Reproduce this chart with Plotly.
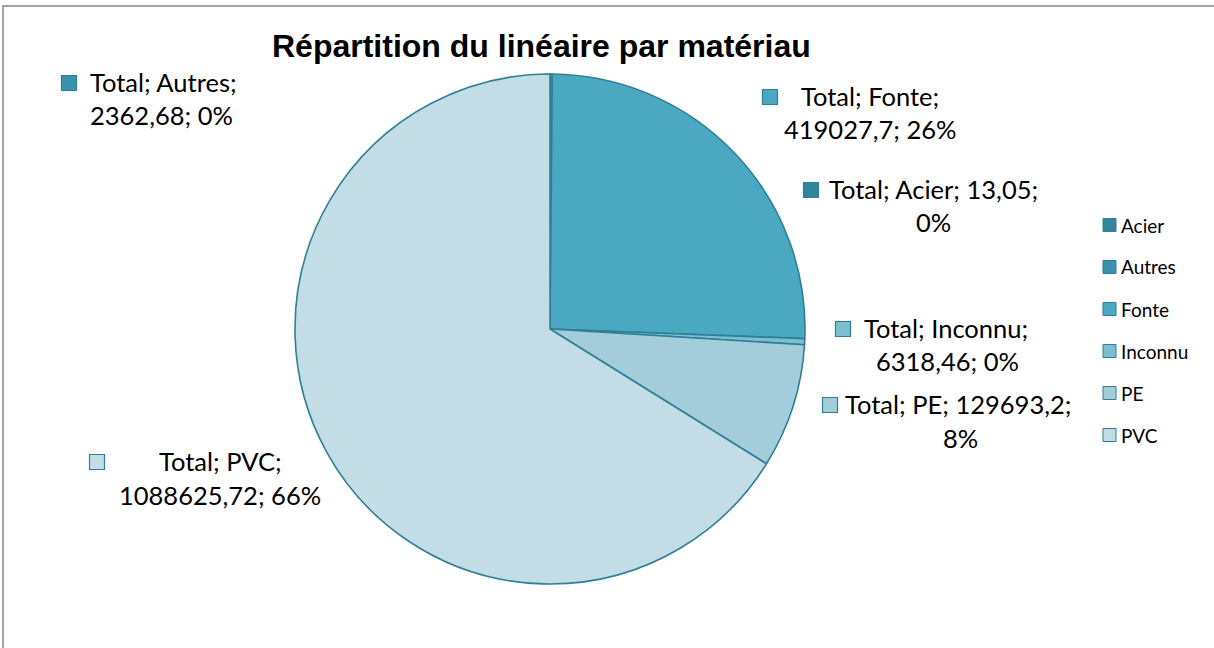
import plotly.graph_objects as go

W, H = 1214, 648

categories = ["Acier", "Autres", "Fonte", "Inconnu", "PE", "PVC"]
values = [13.05, 2362.68, 419027.7, 6318.46, 129693.2, 1088625.72]
value_text = ["13,05", "2362,68", "419027,7", "6318,46", "129693,2", "1088625,72"]
pct_text = ["0%", "0%", "26%", "0%", "8%", "66%"]
colors = ["#31859C", "#3A93AB", "#4AA8C1", "#7BBFD1", "#A3CDDB", "#C3DDE6"]
edge = "#2F8097"

label_lines = {
    "Acier": ["Total; Acier; 13,05;", "0%"],
    "Autres": ["Total; Autres;", "2362,68; 0%"],
    "Fonte": ["Total; Fonte;", "419027,7; 26%"],
    "Inconnu": ["Total; Inconnu;", "6318,46; 0%"],
    "PE": ["Total; PE; 129693,2;", "8%"],
    "PVC": ["Total; PVC;", "1088625,72; 66%"],
}
# pixel positions: marker centre, line1 centre, line2 centre
label_pos = {
    "Acier": ((811, 190), (934, 189), (934, 222)),
    "Autres": ((69, 83), (163, 82), (161, 115)),
    "Fonte": ((770, 97), (870, 96), (870, 129)),
    "Inconnu": ((843, 329), (946, 328), (947, 361)),
    "PE": ((830, 405), (958, 404), (960, 438)),
    "PVC": ((97, 462), (220, 461), (220, 495)),
}

def px(x):
    return x / W

def py(y):
    return 1 - y / H

fig = go.Figure()
fig.add_trace(go.Pie(
    labels=categories,
    values=values,
    sort=False,
    direction="clockwise",
    rotation=0,
    textinfo="none",
    hoverinfo="label+value+percent",
    marker=dict(colors=colors, line=dict(color=edge, width=1.6)),
    domain=dict(x=[px(295), px(805)], y=[py(584), py(74)]),
    showlegend=False,
))

shapes = []
annotations = []

label_font = dict(family="Lato, Open Sans, sans-serif", size=25.5, color="#000000")
for i, cat in enumerate(categories):
    (mx, my), l1, l2 = label_pos[cat]
    shapes.append(dict(type="rect", xref="paper", yref="paper",
                       x0=px(mx - 7.5), x1=px(mx + 7.5), y0=py(my + 7.5), y1=py(my - 7.5),
                       fillcolor=colors[i], line=dict(color=edge, width=1.2)))
    for (cx, cy), txt in zip((l1, l2), label_lines[cat]):
        annotations.append(dict(x=px(cx), y=py(cy), xref="paper", yref="paper",
                                text=txt, showarrow=False, xanchor="center", yanchor="middle",
                                font=label_font))

# legend
legend_y0, legend_step = 225, 42
for i, cat in enumerate(categories):
    cy = legend_y0 + i * legend_step
    shapes.append(dict(type="rect", xref="paper", yref="paper",
                       x0=px(1103), x1=px(1116), y0=py(cy + 6.5), y1=py(cy - 6.5),
                       fillcolor=colors[i], line=dict(color=edge, width=1)))
    annotations.append(dict(x=px(1119), y=py(cy), xref="paper", yref="paper",
                            text=cat, showarrow=False, xanchor="left", yanchor="middle",
                            font=dict(family="Lato, Open Sans, sans-serif", size=19, color="#000000")))

# chart area border (extends beyond the visible window)
shapes.append(dict(type="rect", xref="paper", yref="paper",
                   x0=px(3), x1=px(W + 20), y0=py(H + 20), y1=py(6),
                   fillcolor="rgba(0,0,0,0)", line=dict(color="#868686", width=1.5)))

annotations.append(dict(x=px(541), y=py(46), xref="paper", yref="paper",
                        text="<b>Répartition du linéaire par matériau</b>", showarrow=False,
                        xanchor="center", yanchor="middle",
                        font=dict(family="Liberation Sans, Arial, sans-serif", size=32, color="#000000")))

fig.update_layout(
    width=W, height=H, autosize=False,
    margin=dict(l=0, r=0, t=0, b=0),
    paper_bgcolor="white", plot_bgcolor="white",
    shapes=shapes, annotations=annotations,
    showlegend=False,
)

fig.write_html("out.html", config={"displayModeBar": False},
               post_script="document.body.style.margin='0';document.body.style.overflow='hidden';")
